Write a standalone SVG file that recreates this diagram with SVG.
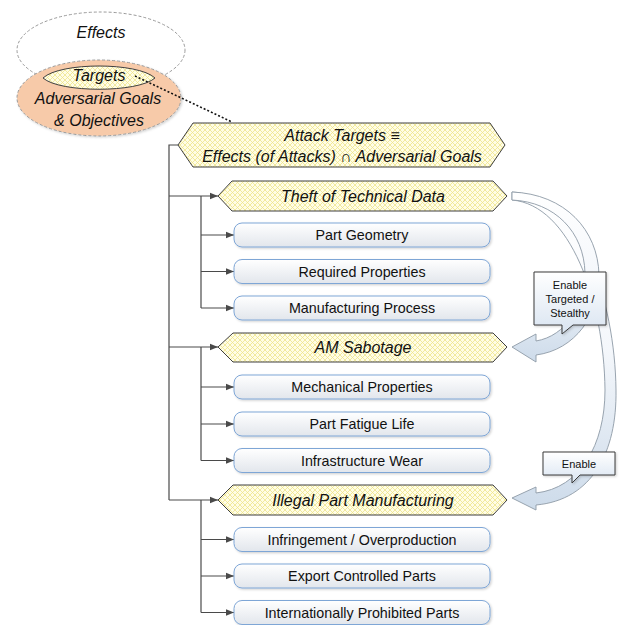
<svg xmlns="http://www.w3.org/2000/svg" width="621" height="625" viewBox="0 0 621 625">
  <defs>
    <!-- yellow cross-hatch fill used by the target hexagons -->
    <pattern id="hatch" width="5" height="5" patternUnits="userSpaceOnUse">
      <rect width="5" height="5" fill="#fffde6"/>
      <path d="M0,0 L5,5 M5,0 L0,5" stroke="#efe58c" stroke-width="0.8"/>
    </pattern>
    <linearGradient id="boxGrad" x1="0" y1="0" x2="0" y2="1">
      <stop offset="0" stop-color="#ffffff"/>
      <stop offset="1" stop-color="#e2e6ec"/>
    </linearGradient>
    <linearGradient id="calloutGrad" x1="0" y1="0" x2="0" y2="1">
      <stop offset="0" stop-color="#ffffff"/>
      <stop offset="1" stop-color="#d9e4f1"/>
    </linearGradient>
    <linearGradient id="arcGrad" x1="0" y1="0" x2="0" y2="1">
      <stop offset="0" stop-color="#ffffff"/>
      <stop offset="0.5" stop-color="#f4f7fb"/>
      <stop offset="1" stop-color="#cddbea"/>
    </linearGradient>
    <filter id="shadow" x="-10%" y="-20%" width="120%" height="150%">
      <feDropShadow dx="1.2" dy="1.2" stdDeviation="0.8" flood-color="#000" flood-opacity="0.18"/>
    </filter>
    <marker id="arrow" viewBox="0 0 8 8" refX="8" refY="4" markerWidth="8" markerHeight="8" markerUnits="userSpaceOnUse" orient="auto">
      <path d="M0,0.8 L8,4 L0,7.2 Z" fill="#4a4a4a"/>
    </marker>
    <style>
      .hex { fill: url(#hatch); stroke: #3f3f3f; stroke-width: 1; }
      .box { fill: url(#boxGrad); stroke: #7ea6d6; stroke-width: 1; filter: url(#shadow); }
      .lbl { font-family: "Liberation Sans", Arial, sans-serif; font-size: 14.3px; fill: #111; text-anchor: middle; }
      .hlbl { font-family: "Liberation Sans", Arial, sans-serif; font-size: 16px; font-style: italic; fill: #111; text-anchor: middle; }
      .clbl { font-family: "Liberation Sans", Arial, sans-serif; font-size: 11px; fill: #111; text-anchor: middle; }
      .wire { fill: none; stroke: #4a4a4a; stroke-width: 1.2; }
      .arc { fill: url(#arcGrad); stroke: #8d9aa6; stroke-width: 0.9; }
      .callout { fill: url(#calloutGrad); stroke: #3a3a3a; stroke-width: 1; filter: url(#shadow); }
    </style>
  </defs>

  <!-- Venn: effects vs adversarial goals -->
  <g id="venn">
    <ellipse cx="101" cy="50" rx="84" ry="38" fill="#ffffff" stroke="#9a9a9a" stroke-width="1" stroke-dasharray="3,2"/>
    <ellipse cx="99" cy="98" rx="82" ry="38" fill="#f7caa9" stroke="#9a9a9a" stroke-width="1" stroke-dasharray="3,2" filter="url(#shadow)"/>
    <path d="M43,78 C60,62 138,62 155,78 C138,93 60,93 43,78 Z" fill="url(#hatch)" stroke="#3f3f3f" stroke-width="1"/>
    <text class="hlbl" x="101" y="38">Effects</text>
    <text class="hlbl" x="99" y="81">Targets</text>
    <text class="hlbl" x="98" y="104">Adversarial Goals</text>
    <text class="hlbl" x="99" y="126">&amp; Objectives</text>
  </g>

  <!-- Tree connectors -->
  <g id="connectors">
    <line x1="135" y1="76" x2="232" y2="122" stroke="#111" stroke-width="1.6" stroke-dasharray="2,2"/>
    <path class="wire" d="M178,145 H169 V500"/>
    <line class="wire" x1="169" y1="196" x2="218" y2="196" marker-end="url(#arrow)"/>
    <line class="wire" x1="169" y1="347" x2="218" y2="347" marker-end="url(#arrow)"/>
    <line class="wire" x1="169" y1="500" x2="218" y2="500" marker-end="url(#arrow)"/>
    <path class="wire" d="M201,196 V308"/>
    <path class="wire" d="M201,347 V460.5"/>
    <path class="wire" d="M201,500 V612.5"/>
    <line class="wire" x1="201" y1="235" x2="234" y2="235" marker-end="url(#arrow)"/>
    <line class="wire" x1="201" y1="271.5" x2="234" y2="271.5" marker-end="url(#arrow)"/>
    <line class="wire" x1="201" y1="308" x2="234" y2="308" marker-end="url(#arrow)"/>
    <line class="wire" x1="201" y1="387" x2="234" y2="387" marker-end="url(#arrow)"/>
    <line class="wire" x1="201" y1="424" x2="234" y2="424" marker-end="url(#arrow)"/>
    <line class="wire" x1="201" y1="460.5" x2="234" y2="460.5" marker-end="url(#arrow)"/>
    <line class="wire" x1="201" y1="539.5" x2="234" y2="539.5" marker-end="url(#arrow)"/>
    <line class="wire" x1="201" y1="576" x2="234" y2="576" marker-end="url(#arrow)"/>
    <line class="wire" x1="201" y1="612.5" x2="234" y2="612.5" marker-end="url(#arrow)"/>
  </g>

  <!-- Root node -->
  <g id="attack-targets">
    <polygon class="hex" points="178,145 193,123 490,123 505,145 490,167 193,167"/>
    <text class="hlbl" x="342" y="141">Attack Targets ≡</text>
    <text class="hlbl" x="342" y="162">Effects (of Attacks) ∩ Adversarial Goals</text>
  </g>

  <!-- Theft of technical data -->
  <g id="theft">
    <polygon class="hex" points="218,196 232,181 493,181 507,196 493,211 232,211"/>
    <text class="hlbl" x="363" y="202">Theft of Technical Data</text>
  </g>
  <g id="part-geometry">
    <rect class="box" x="234" y="223" width="256" height="24" rx="8"/>
    <text class="lbl" x="362" y="240">Part Geometry</text>
  </g>
  <g id="required-properties">
    <rect class="box" x="234" y="259.5" width="256" height="24" rx="8"/>
    <text class="lbl" x="362" y="276.5">Required Properties</text>
  </g>
  <g id="manufacturing-process">
    <rect class="box" x="234" y="296" width="256" height="24" rx="8"/>
    <text class="lbl" x="362" y="313">Manufacturing Process</text>
  </g>

  <!-- AM sabotage -->
  <g id="sabotage">
    <polygon class="hex" points="218,347 233,333 493,333 507,347 493,362 233,362"/>
    <text class="hlbl" x="363" y="353">AM Sabotage</text>
  </g>
  <g id="mechanical-properties">
    <rect class="box" x="234" y="375" width="256" height="24" rx="8"/>
    <text class="lbl" x="362" y="392">Mechanical Properties</text>
  </g>
  <g id="fatigue-life">
    <rect class="box" x="234" y="412" width="256" height="24" rx="8"/>
    <text class="lbl" x="362" y="429">Part Fatigue Life</text>
  </g>
  <g id="infrastructure-wear">
    <rect class="box" x="234" y="448.5" width="256" height="24" rx="8"/>
    <text class="lbl" x="362" y="465.5">Infrastructure Wear</text>
  </g>

  <!-- Illegal part manufacturing -->
  <g id="illegal">
    <polygon class="hex" points="218,500 233,485 493,485 507,500 493,515 233,515"/>
    <text class="hlbl" x="363" y="506">Illegal Part Manufacturing</text>
  </g>
  <g id="infringement">
    <rect class="box" x="234" y="527.5" width="256" height="24" rx="8"/>
    <text class="lbl" x="362" y="544.5">Infringement / Overproduction</text>
  </g>
  <g id="export-controlled">
    <rect class="box" x="234" y="564" width="256" height="24" rx="8"/>
    <text class="lbl" x="362" y="581">Export Controlled Parts</text>
  </g>
  <g id="prohibited">
    <rect class="box" x="234" y="600.5" width="256" height="24" rx="8"/>
    <text class="lbl" x="362" y="617.5">Internationally Prohibited Parts</text>
  </g>

  <!-- Curved enabling arrows -->
  <g id="enable-arcs">
    <path class="arc" d="M512,192 C580,195 615,300 616,390 C617,452 592,500 536,505 L536,510 L512,498 L536,487 L536,493 C580,488 605,445 605,390 C604,300 570,205 512,200 Z"/>
    <path class="arc" d="M512,192 C565,194 598,230 599,275 C600,315 575,350 536,355 L536,362 L512,347 L536,334 L536,341 C566,336 585,305 585,273 C584,232 555,202 512,200 Z"/>
  </g>
  <g id="callout-targeted">
    <path class="callout" d="M534,272 H606 V325 H573 L562,334 L562,325 H534 Z"/>
    <text class="clbl" x="570" y="289">Enable</text>
    <text class="clbl" x="570" y="303">Targeted /</text>
    <text class="clbl" x="570" y="317">Stealthy</text>
  </g>
  <g id="callout-enable">
    <path class="callout" d="M543,452 H615 V475 H580 L572,483 L572,475 H543 Z"/>
    <text class="clbl" x="579" y="468">Enable</text>
  </g>
</svg>
